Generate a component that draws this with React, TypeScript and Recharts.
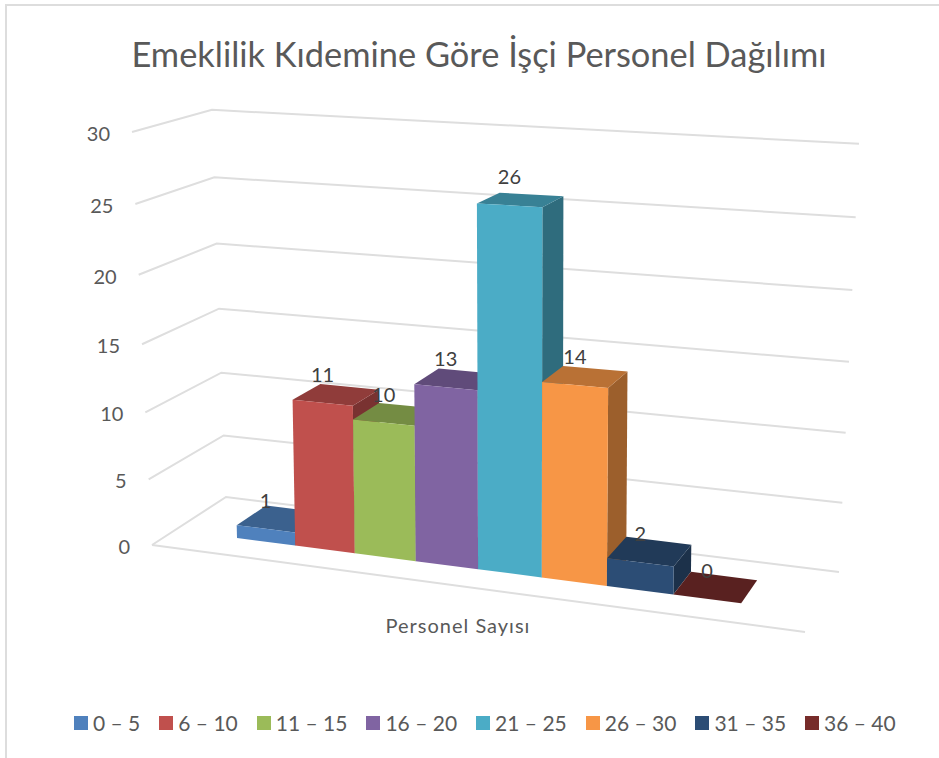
import React from "react";
import { BarChart, Bar, XAxis, YAxis, CartesianGrid, Legend, LabelList } from "recharts";

const bands = ["0 – 5", "6 – 10", "11 – 15", "16 – 20", "21 – 25", "26 – 30", "31 – 35", "36 – 40"];
const counts = [1, 11, 10, 13, 26, 14, 2, 0];
const colors = ["#4F81BD", "#C0504D", "#9BBB59", "#8064A2", "#4BACC6", "#F79646", "#2C4D75", "#772C2A"];
const yTicks = [0, 5, 10, 15, 20, 25, 30];
const category = "Personel Sayısı";
const title = "Emeklilik Kıdemine Göre İşçi Personel Dağılımı";

const row: Record<string, string | number> = { name: category };
bands.forEach((b, i) => {
  row[b] = counts[i];
});
const rows = [row];

const FONT = "Lato, sans-serif";
const PLOT_LEFT = 237;
const PLOT_RIGHT = 739;
const PLOT_TOP = 135;
const PLOT_BOTTOM = 545;
const MAX = 30;

// plot pixel -> value / fraction, so everything still comes out of the chart's scales
const toV = (py: number) => (MAX * (PLOT_BOTTOM - py)) / (PLOT_BOTTOM - PLOT_TOP);
const toU = (px: number) => (px - PLOT_LEFT) / (PLOT_RIGHT - PLOT_LEFT);

// fake perspective of the old 3D column chart
function front(u: number, v: number) {
  const w = u + 0.087 * u * (u - 1);
  const rise = v + 0.0017 * v * v;
  const xl = 237 - 0.3 * v;
  const xr = 739 + 0.23 * v;
  const yl = 538 - 12.85 * rise;
  const yr = 603 - 14.15 * rise;
  return { x: xl + (xr - xl) * w, y: yl + (yr - yl) * w };
}

function project(u: number, v: number, deep: boolean) {
  const p = front(u, v);
  if (!deep) return p;
  return { x: p.x + 29.5 - 13.5 * u, y: p.y - 20 - 3 * u + 0.42 * v };
}

const pts = (list: { x: number; y: number }[]) => list.map((p) => `${p.x},${p.y}`).join(" ");

function shade(hex: string, k: number) {
  const n = parseInt(hex.slice(1), 16);
  const c = [(n >> 16) & 255, (n >> 8) & 255, n & 255].map((d) => Math.round(d * k));
  return `rgb(${c.join(",")})`;
}

function Column3D(props: any) {
  const { x, y, width, height, fill } = props;
  const u0 = toU(x);
  const u1 = toU(x + width);
  const v = toV(y);
  const v0 = toV(y + height);
  return (
    <g>
      <polygon
        points={pts([project(u1, v0, false), project(u1, v0, true), project(u1, v, true), project(u1, v, false)])}
        fill={shade(fill, 0.63)}
      />
      <polygon
        points={pts([project(u0, v, false), project(u0, v, true), project(u1, v, true), project(u1, v, false)])}
        fill={shade(fill, 0.75)}
      />
      <polygon
        points={pts([project(u0, v0, false), project(u1, v0, false), project(u1, v, false), project(u0, v, false)])}
        fill={fill}
      />
    </g>
  );
}

function WallLine(props: any) {
  const v = toV(props.y1);
  const a = { x: 152 - (v * 20) / 30, y: 545 - (13 * v + 0.0256 * v * v) };
  const b = { x: 226 - (v * 14) / 30, y: 497 - (12.2 * v + 0.0235 * v * v) };
  const c = { x: 839 + (v * 20) / 30, y: 572 - (13.75 * v + 0.0175 * v * v) };
  return (
    <g key={`wall-${v}`}>
      <polyline points={pts([a, b, c])} fill="none" stroke="#DEDEDE" strokeWidth={2} />
      {v === 0 && <line x1={a.x} y1={a.y} x2={805} y2={632} stroke="#DEDEDE" strokeWidth={2} />}
    </g>
  );
}

function YTick(props: any) {
  const v = props.payload.value;
  return (
    <text
      x={130 - (v * 20) / 30}
      y={545 - (13 * v + 0.0256 * v * v) + 1}
      textAnchor="end"
      dominantBaseline="central"
      fontFamily={FONT}
      fontSize={20}
      fill="#595959"
    >
      {v}
    </text>
  );
}

function XTick(props: any) {
  return (
    <text
      x={props.x - 30}
      y={625}
      textAnchor="middle"
      dominantBaseline="central"
      fontFamily={FONT}
      fontSize={20}
      letterSpacing={1}
      fill="#595959"
    >
      {props.payload.value}
    </text>
  );
}

function ValueLabel(props: any) {
  const box = props.viewBox ?? props;
  const u = toU(box.x + box.width / 2);
  const v = toV(box.y);
  const p = project(u, v, false);
  return (
    <text x={p.x} y={p.y - 29} textAnchor="middle" dominantBaseline="central" fontFamily={FONT} fontSize={20} fill="#404040">
      {props.value}
    </text>
  );
}

function LegendRow({ payload }: any) {
  return (
    <div style={{ display: "flex", fontFamily: FONT, fontSize: 21, color: "#595959", lineHeight: "24px" }}>
      {(payload ?? []).map((item: any) => (
        <div key={item.value} style={{ display: "flex", alignItems: "center", marginRight: 19 }}>
          <span style={{ width: 14, height: 14, background: item.color, marginRight: 5 }} />
          <span>{item.value}</span>
        </div>
      ))}
    </div>
  );
}

export default function App() {
  return (
    <div style={{ position: "absolute", left: 0, top: 0, width: 939, height: 758, overflow: "hidden", background: "#fff" }}>
      <div
        style={{
          position: "absolute",
          left: 5,
          top: 4,
          width: 934,
          height: 754,
          borderLeft: "2px solid #DDDDDD",
          borderTop: "2px solid #DDDDDD",
          boxSizing: "border-box",
        }}
      />
      <div
        style={{
          position: "absolute",
          left: 0,
          width: 958,
          top: 30,
          textAlign: "center",
          fontFamily: FONT,
          fontSize: 34.4,
          lineHeight: "48px",
          color: "#595959",
          whiteSpace: "nowrap",
        }}
      >
        {title}
      </div>
      <BarChart
        width={939}
        height={758}
        data={rows}
        barCategoryGap={0}
        barGap={0}
        margin={{ top: PLOT_TOP, right: 939 - PLOT_RIGHT, bottom: 133, left: 0 }}
        style={{ position: "absolute", left: 0, top: 0 }}
      >
        <CartesianGrid vertical={false} horizontal={(p: any) => <WallLine {...p} />} />
        <XAxis dataKey="name" height={30} axisLine={false} tickLine={false} tick={(p: any) => <XTick {...p} />} />
        <YAxis
          width={PLOT_LEFT}
          domain={[0, MAX]}
          ticks={yTicks}
          axisLine={false}
          tickLine={false}
          tick={(p: any) => <YTick {...p} />}
        />
        <Legend
          height={50}
          itemSorter={null}
          content={(p: any) => <LegendRow payload={p.payload} />}
          wrapperStyle={{ left: 74, top: 711, width: 860 }}
        />
        {bands.map((b, i) => (
          <Bar key={b} dataKey={b} name={b} fill={colors[i]} isAnimationActive={false} shape={(p: any) => <Column3D {...p} />}>
            <LabelList dataKey={b} content={(p: any) => <ValueLabel {...p} />} />
          </Bar>
        ))}
      </BarChart>
    </div>
  );
}
